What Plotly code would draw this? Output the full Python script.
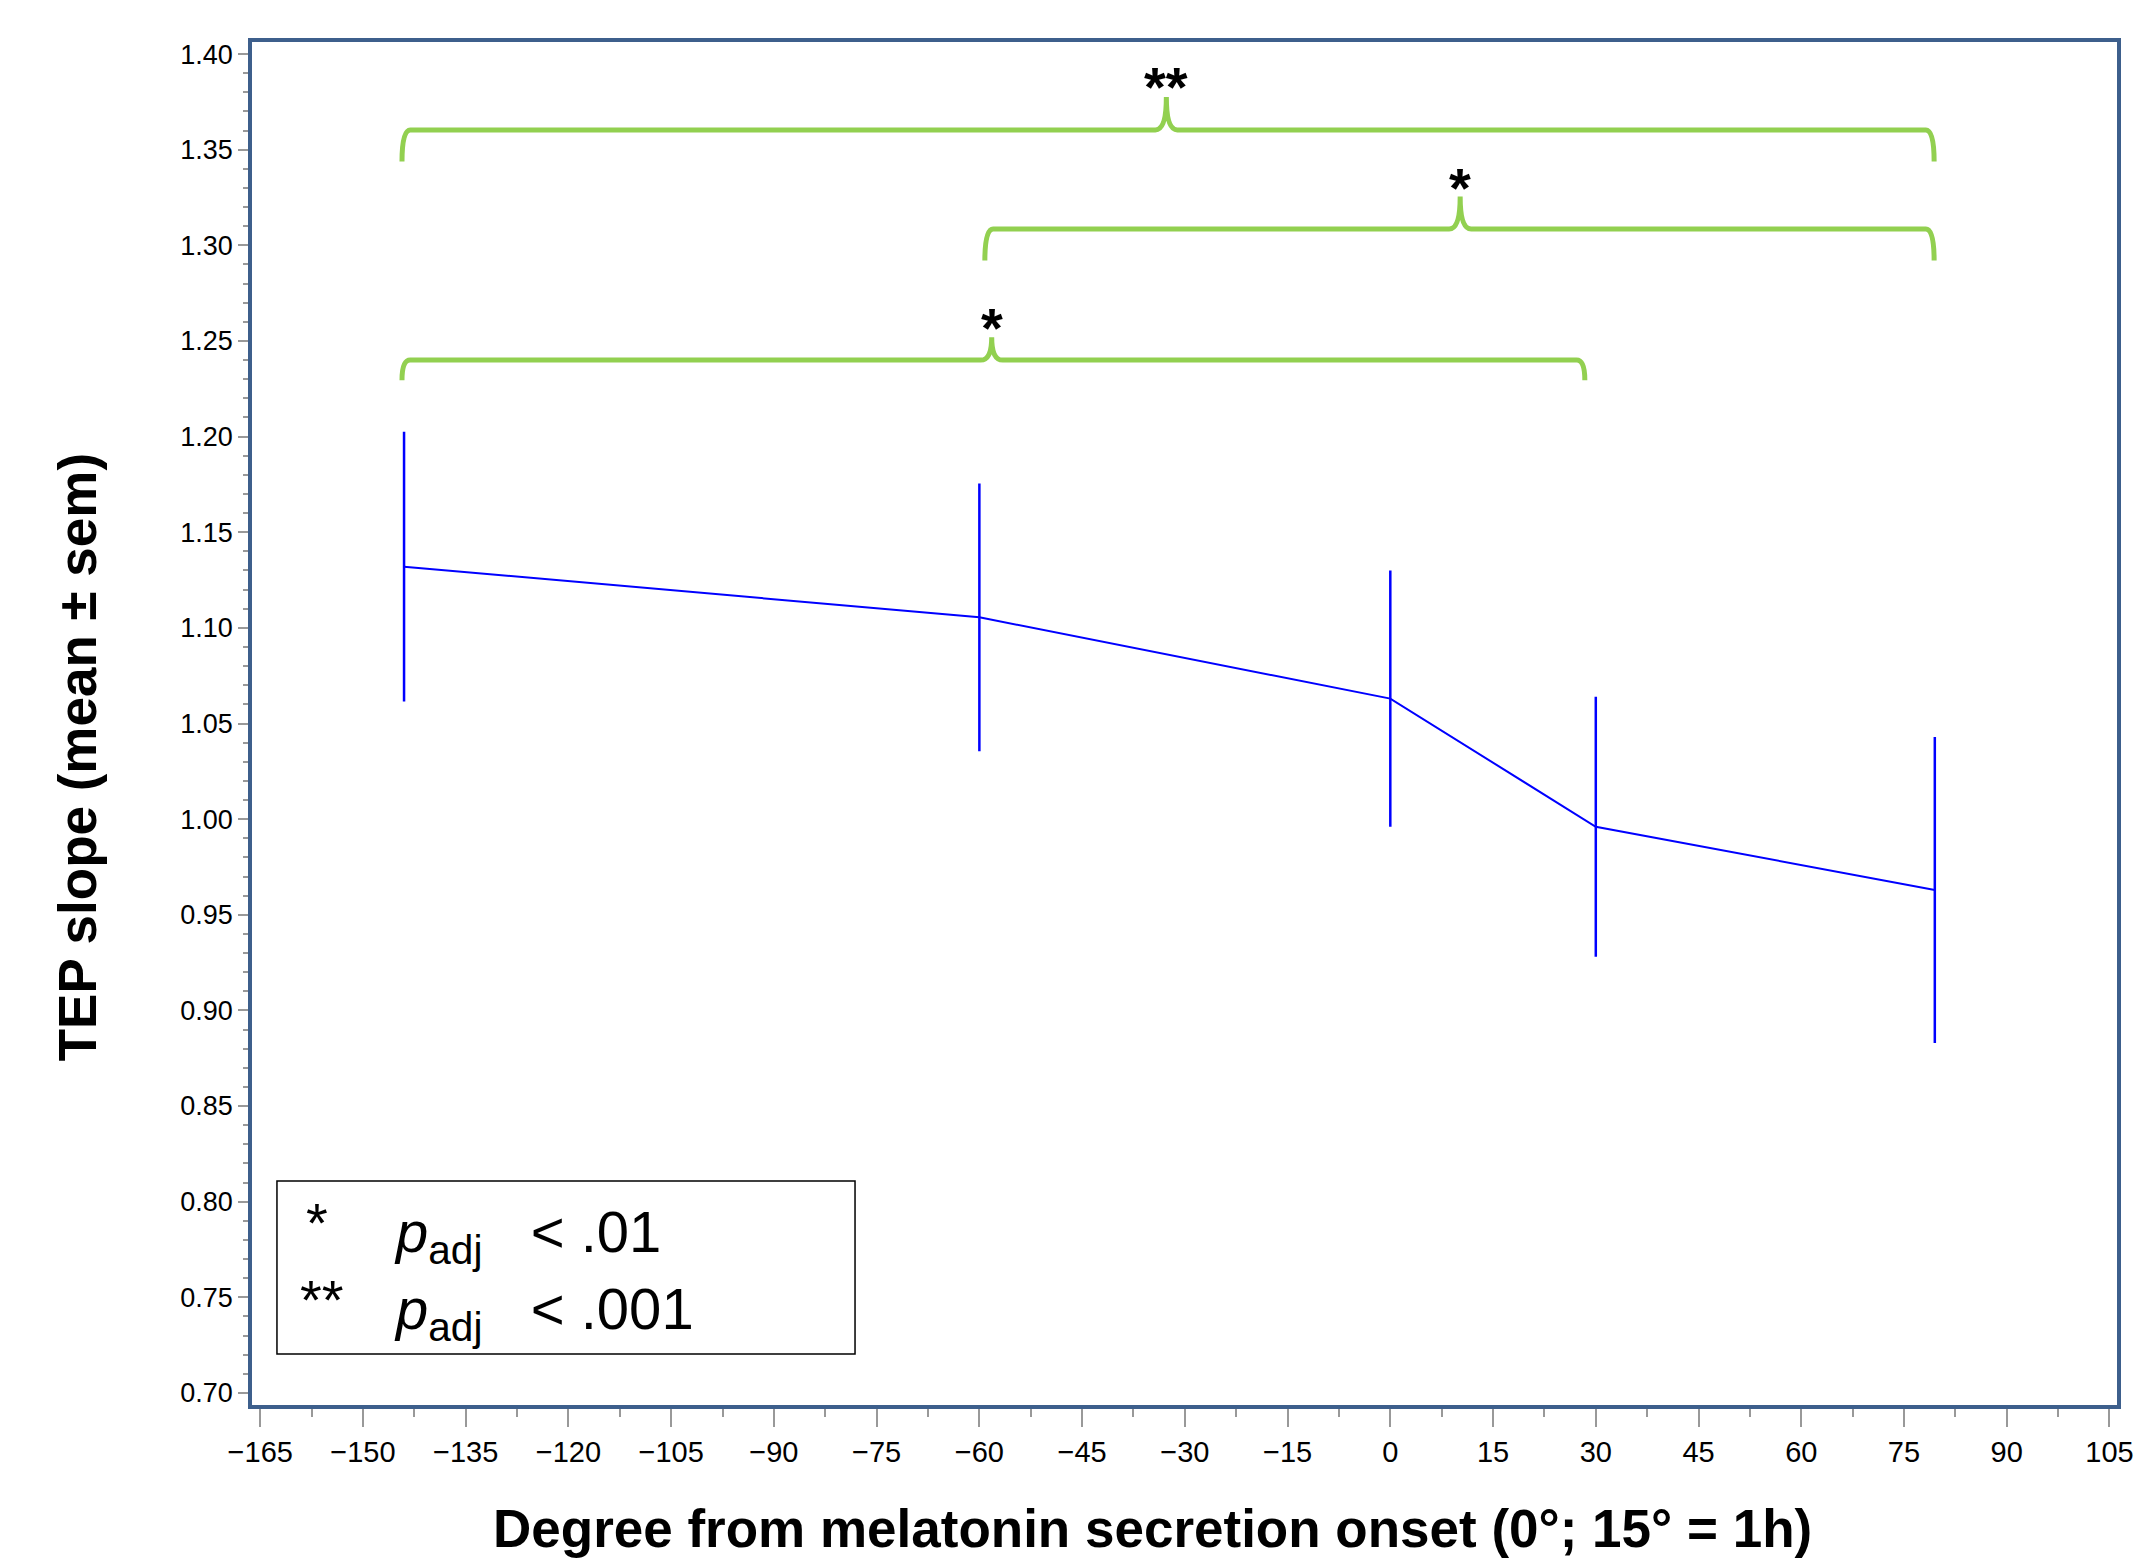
import plotly.graph_objects as go

# ---------------- data ----------------
degrees = [-144, -60, 0, 30, 79.5]
tep_mean = [1.132, 1.1055, 1.063, 0.996, 0.963]
tep_sem = [0.0705, 0.070, 0.067, 0.068, 0.080]

x_tick_vals = list(range(-165, 106, 15))
y_tick_vals = [round(0.70 + 0.05 * i, 2) for i in range(15)]

# significance brackets
br_x0 = [-144.3, -59.2, -144.3]
br_x1 = [79.4, 79.4, 28.4]
br_tip = [-32.7, 10.2, -58.2]
br_y = [1.3603, 1.3085, 1.2400]
br_drop = [0.0165, 0.0165, 0.0105]
br_rise = [0.0172, 0.0170, 0.0120]
br_label = ["**", "*", "*"]
br_label_y = [1.3830, 1.3300, 1.2570]

legend_marks = ["*", "**"]
legend_texts = ["<i>p</i><sub>adj</sub>&nbsp;&nbsp;&nbsp;&lt; .01",
                "<i>p</i><sub>adj</sub>&nbsp;&nbsp;&nbsp;&lt; .001"]

# ---------------- layout geometry (screen px; page has 8px body margin) ----------------
OFF = 8
W, H = 2154 - 2 * OFF, 1568 - 2 * OFF
PL, PR, PT, PB = 252 - OFF, 2120 - OFF, 42 - OFF, 1405 - OFF
XR = [-166.2, 106.1]
YR = [0.6937, 1.4063]


def px_x(p):  # screen px -> paper x
    return (p - OFF - PL) / (PR - PL)


def px_y(p):  # screen px -> paper y
    return (PB - (p - OFF)) / (PB - PT)


def dx(p):
    return px_x(p) * (XR[1] - XR[0]) + XR[0]


def dy(p):
    return px_y(p) * (YR[1] - YR[0]) + YR[0]


FONT = "Liberation Sans, Arial, Helvetica, sans-serif"
GREEN = "#92D050"
FRAME = "#3D5F8C"

fig = go.Figure()
fig.add_trace(go.Scatter(
    x=degrees, y=tep_mean, mode="lines",
    line=dict(color="#0000FF", width=2),
    error_y=dict(type="data", array=tep_sem, visible=True,
                 color="#0000FF", thickness=2.5, width=0),
    showlegend=False, hoverinfo="skip",
))

shapes = []
annotations = []

# brackets (curly-brace style)
for x0, x1, xt, yb, dr, ri, lab, ly in zip(br_x0, br_x1, br_tip, br_y, br_drop,
                                             br_rise, br_label, br_label_y):
    r = 1.2   # corner size in x units
    rt = 1.6  # tip half width
    path = (f"M {x0},{yb - dr} Q {x0},{yb} {x0 + r},{yb} "
            f"L {xt - rt},{yb} Q {xt},{yb} {xt},{yb + ri} "
            f"Q {xt},{yb} {xt + rt},{yb} "
            f"L {x1 - r},{yb} Q {x1},{yb} {x1},{yb - dr}")
    shapes.append(dict(type="path", path=path, xref="x", yref="y",
                       line=dict(color=GREEN, width=5), layer="above"))
    annotations.append(dict(x=xt, y=ly, xref="x", yref="y", text=f"<b>{lab}</b>",
                            showarrow=False, xanchor="center", yanchor="middle",
                            font=dict(family=FONT, size=56, color="black")))

# legend box
shapes.append(dict(type="rect", xref="x", yref="y",
                   x0=dx(277), x1=dx(856), y0=dy(1354), y1=dy(1181),
                   line=dict(color="black", width=1.5), fillcolor="white",
                   layer="above"))
legend_rows_y = [1236, 1313]
legend_mark_x = [317, 322]
for mk, tx, ry, mx in zip(legend_marks, legend_texts, legend_rows_y, legend_mark_x):
    annotations.append(dict(x=px_x(mx), y=px_y(ry - 14), xref="paper", yref="paper",
                            text=mk, showarrow=False, xanchor="center", yanchor="middle",
                            font=dict(family=FONT, size=56, color="black")))
    annotations.append(dict(x=px_x(392), y=px_y(ry), xref="paper", yref="paper",
                            text=tx, showarrow=False, xanchor="left", yanchor="middle",
                            font=dict(family=FONT, size=58, color="black")))

# axis titles
annotations.append(dict(x=px_x(1154), y=px_y(1528), xref="paper", yref="paper",
                        text="<b>Degree from melatonin secretion onset (0°; 15° = 1h)</b>",
                        showarrow=False, xanchor="center", yanchor="middle",
                        font=dict(family=FONT, size=53, color="black")))
annotations.append(dict(x=px_x(78), y=px_y(757), xref="paper", yref="paper",
                        text="<b>TEP slope (mean ± sem)</b>", textangle=-90,
                        showarrow=False, xanchor="center", yanchor="middle",
                        font=dict(family=FONT, size=53, color="black")))

fig.update_layout(
    width=W, height=H,
    margin=dict(l=PL, r=W - PR, t=PT, b=H - PB, pad=0),
    paper_bgcolor="white", plot_bgcolor="white",
    shapes=shapes, annotations=annotations,
    font=dict(family=FONT, color="black"),
)

fig.update_xaxes(
    range=XR, tickmode="array", tickvals=x_tick_vals,
    showline=True, linecolor=FRAME, linewidth=3.5, mirror=True,
    showgrid=False, zeroline=False,
    ticks="outside", ticklen=18, tickwidth=2, tickcolor="#999999",
    tickfont=dict(family=FONT, size=29, color="black"),
    ticklabelstandoff=0,
    minor=dict(dtick=7.5, tick0=-165, ticks="outside", ticklen=8, tickwidth=2,
               tickcolor="#999999", showgrid=False),
)
fig.update_yaxes(
    range=YR, tickmode="array", tickvals=y_tick_vals, tickformat=".2f",
    showline=True, linecolor=FRAME, linewidth=3.5, mirror=True,
    showgrid=False, zeroline=False,
    ticks="outside", ticklen=10, tickwidth=2, tickcolor="#999999",
    tickfont=dict(family=FONT, size=27, color="black"),
    minor=dict(dtick=0.01, tick0=0.70, ticks="outside", ticklen=5, tickwidth=2,
               tickcolor="#999999", showgrid=False),
)

fig.write_html("out.html")
